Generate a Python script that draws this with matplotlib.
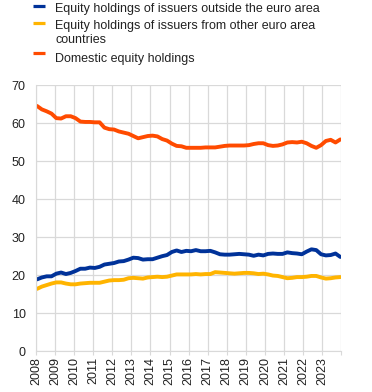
import numpy as np
import matplotlib
matplotlib.use('Agg')
import matplotlib.pyplot as plt
from matplotlib.lines import Line2D

plt.rcParams['font.family'] = ['Liberation Sans', 'DejaVu Sans']

# quarterly data, 2008 Q1 - 2023 Q4 (percentages)
outside_euro = [
    18.9, 19.4, 19.7, 19.7,  20.4, 20.7, 20.3, 20.6,
    21.1, 21.7, 21.7, 22.0,  21.9, 22.2, 22.8, 23.0,
    23.2, 23.6, 23.7, 24.1,  24.6, 24.5, 24.1, 24.2,
    24.2, 24.6, 25.0, 25.3,  26.1, 26.5, 26.1, 26.4,
    26.3, 26.6, 26.3, 26.3,  26.4, 26.0, 25.5, 25.4,
    25.4, 25.5, 25.6, 25.5,  25.4, 25.1, 25.4, 25.2,
    25.6, 25.7, 25.6, 25.6,  26.0, 25.8, 25.7, 25.5,
    26.2, 26.8, 26.6, 25.5,  25.2, 25.3, 25.7, 24.8,
]
other_euro = [
    16.4, 17.0, 17.4, 17.8,  18.1, 18.1, 17.8, 17.6,
    17.6, 17.8, 17.9, 18.0,  18.0, 18.0, 18.3, 18.6,
    18.7, 18.7, 18.8, 19.2,  19.3, 19.2, 19.1, 19.4,
    19.5, 19.6, 19.5, 19.6,  19.9, 20.2, 20.2, 20.2,
    20.2, 20.3, 20.2, 20.3,  20.3, 20.8, 20.7, 20.6,
    20.5, 20.4, 20.5, 20.6,  20.6, 20.5, 20.3, 20.4,
    20.2, 19.9, 19.8, 19.5,  19.2, 19.3, 19.5, 19.5,
    19.6, 19.8, 19.8, 19.4,  19.1, 19.2, 19.4, 19.5,
]
domestic = [
    64.5, 63.6, 63.1, 62.5,  61.3, 61.2, 61.8, 61.8,
    61.3, 60.4, 60.3, 60.3,  60.2, 60.2, 58.8, 58.4,
    58.3, 57.8, 57.5, 57.2,  56.6, 56.0, 56.3, 56.6,
    56.7, 56.5, 55.8, 55.4,  54.6, 54.0, 53.9, 53.5,
    53.5, 53.5, 53.5, 53.6,  53.6, 53.6, 53.8, 54.0,
    54.1, 54.1, 54.1, 54.1,  54.2, 54.5, 54.7, 54.7,
    54.2, 54.0, 54.1, 54.4,  54.9, 55.0, 54.9, 55.1,
    54.7, 54.0, 53.5, 54.2,  55.3, 55.6, 54.9, 55.7,
]
years = list(range(2008, 2024))

labels = [
    ['Equity holdings of issuers outside the euro area'],
    ['Equity holdings of issuers from other euro area', 'countries'],
    ['Domestic equity holdings'],
]
colors = ['#003299', '#ffb400', '#ff4b00']

W, H = 372, 392
x = 2008.05 + np.arange(len(domestic)) * 0.2525

fig = plt.figure(figsize=(W / 100, H / 100), dpi=100)
ax = fig.add_axes([0.097, 0.104, 0.820, 0.679])

for series, color in zip([outside_euro, other_euro, domestic], colors):
    ax.plot(x, series, color=color, lw=2.8, solid_capstyle='round')

ax.set_xlim(2008, 2024)
ax.set_ylim(0, 70)
ax.set_yticks(range(0, 71, 10))
ax.set_xticks(range(2008, 2025))
ax.set_xticklabels([str(y) for y in years] + [''], rotation=90)
ax.tick_params(axis='both', labelsize=9, colors='#d9d9d9', labelcolor='#222222')
ax.tick_params(axis='y', length=0, pad=7.5)
ax.tick_params(axis='x', length=3, pad=1)
ax.grid(True, color='#d9d9d9', lw=0.9)
ax.set_axisbelow(True)
for side in ['top', 'right']:
    ax.spines[side].set_visible(False)
for side in ['left', 'bottom']:
    ax.spines[side].set_color('#d9d9d9')

# legend drawn by hand (pixel positions from the top)
baselines = [[12.3], [29.3, 43.3], [61.7]]
handle_y = [5.8, 23.0, 53.0]
for lines, base, hy, color in zip(labels, baselines, handle_y, colors):
    fig.add_artist(Line2D([33 / W, 45 / W], [1 - hy / H] * 2, transform=fig.transFigure,
                          color=color, lw=2.3, solid_capstyle='butt'))
    for text, b in zip(lines, base):
        fig.text(55 / W, 1 - b / H, text, fontsize=9, color='#222222', va='baseline')

fig.savefig('out.png', dpi=100)
